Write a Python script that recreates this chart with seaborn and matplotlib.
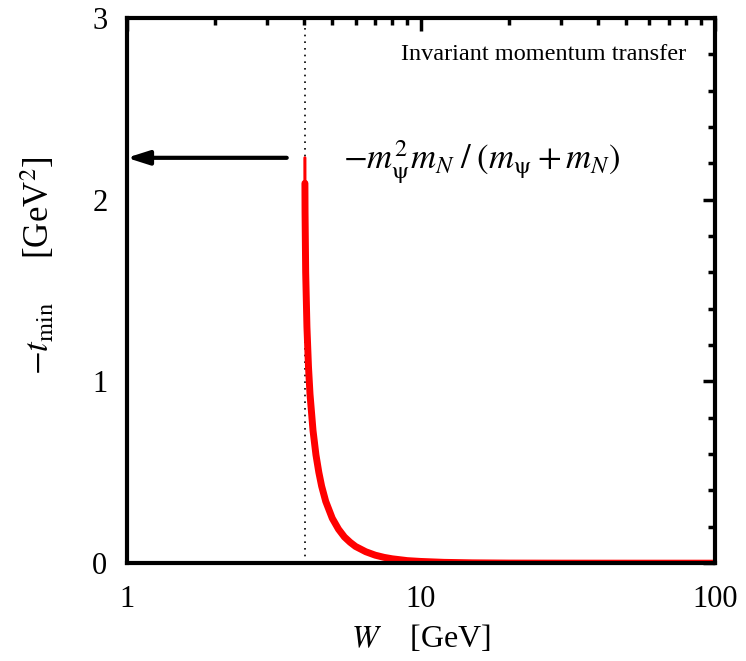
import numpy as np
import pandas as pd
import matplotlib
matplotlib.use("Agg")
import matplotlib.pyplot as plt
import seaborn as sns
from matplotlib.ticker import FixedLocator, MultipleLocator, NullFormatter, LogLocator

# Invariant-mass grid W [GeV] and the minimal momentum transfer -t_min [GeV^2]
w_gev = [4.035, 4.036, 4.04, 4.06, 4.10, 4.15, 4.20, 4.30, 4.40, 4.50, 4.60,
         4.75, 5.0, 5.25, 5.5, 5.75, 6.0, 6.5, 7.0, 7.5, 8.0, 9.0, 10.0,
         12.0, 15.0, 20.0, 30.0, 50.0, 100.0]
minus_tmin = [2.23, 2.09, 1.93, 1.60, 1.30, 1.08, 0.93, 0.73, 0.596, 0.50,
              0.424, 0.34, 0.247, 0.187, 0.144, 0.115, 0.092, 0.063, 0.044,
              0.032, 0.024, 0.014, 0.0095, 0.0045, 0.0018, 0.0005, 0.0001,
              0.0, 0.0]

threshold_w = 4.035      # m_psi + m_N
threshold_t = 2.23       # m_psi^2 m_N / (m_psi + m_N)

x_ticks = [1, 10, 100]
x_tick_labels = ["1", "10", "100"]
y_ticks = [0, 1, 2, 3]
y_tick_labels = ["0", "1", "2", "3"]

df = pd.DataFrame({"W": w_gev, "t": minus_tmin})

sns.set_theme(style="white")
plt.rcParams["font.family"] = ["Liberation Serif", "DejaVu Serif"]
plt.rcParams["mathtext.fontset"] = "stix"
plt.rcParams["text.color"] = "black"
plt.rcParams["axes.labelcolor"] = "black"
plt.rcParams["xtick.color"] = "black"
plt.rcParams["ytick.color"] = "black"

fig = plt.figure(figsize=(7.46, 6.61), dpi=100)
ax = fig.add_axes([0.170, 0.148, 0.788, 0.825])

# thin first step right at threshold, thick curve for the rest
sns.lineplot(data=df.iloc[:2], x="W", y="t", ax=ax, color="#ff0000",
             linewidth=2.2, estimator=None, sort=False)
sns.lineplot(data=df.iloc[1:], x="W", y="t", ax=ax, color="#ff0000",
             linewidth=5.0, estimator=None, sort=False)

# threshold marker
ax.axvline(threshold_w, color="black", linestyle=(0, (1, 3)), linewidth=1.2, zorder=1)

ax.annotate("", xy=(1.0, threshold_t), xytext=(3.5, threshold_t),
            arrowprops=dict(arrowstyle="-|>,head_length=1.1,head_width=0.35",
                            color="black", lw=3, shrinkA=0, shrinkB=0))
ax.text(5.45, threshold_t - 0.02,
        r"$-m_{\mathrm{ψ}}^{2}m_{N}\;/\;(m_{\mathrm{ψ}} + m_{N})$",
        fontsize=25, va="center", ha="left")

ax.text(0.952, 0.932, "Invariant momentum transfer", transform=ax.transAxes,
        fontsize=17.5, ha="right", va="center")

ax.set_xscale("log")
ax.set_xlim(1, 100)
ax.set_ylim(0, 3)
ax.xaxis.set_major_locator(FixedLocator(x_ticks))
ax.set_xticklabels(x_tick_labels)
ax.xaxis.set_minor_locator(LogLocator(base=10, subs=np.arange(2, 10)))
ax.xaxis.set_minor_formatter(NullFormatter())
ax.yaxis.set_major_locator(FixedLocator(y_ticks))
ax.set_yticklabels(y_tick_labels)
ax.yaxis.set_minor_locator(MultipleLocator(0.2))

ax.tick_params(which="both", direction="in", top=True, right=True,
               labelsize=22, color="black", width=2.5)
ax.tick_params(axis="x", which="major", length=9, pad=16)
ax.tick_params(axis="y", which="major", length=9, pad=14)
ax.tick_params(which="minor", length=5)
for s in ax.spines.values():
    s.set_linewidth(3)
    s.set_color("black")

ax.set_xlabel(r"$W$    [GeV]", fontsize=23, labelpad=6)
ax.set_ylabel(r"$-t_{\mathrm{min}}$     [GeV$^{2}$]", fontsize=25)
ax.yaxis.set_label_coords(-0.118, 0.545)
ax.grid(False)

fig.savefig("out.png", dpi=100)
